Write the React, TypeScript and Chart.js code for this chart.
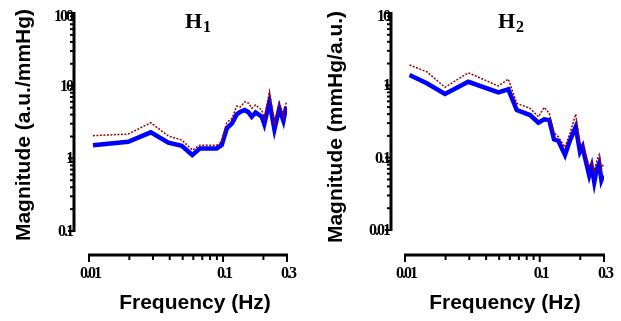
import React, { useEffect, useRef } from "react";
import { Chart, registerables } from "chart.js";

Chart.register(...registerables);

// ---- data ----
const h1Freq = [0.0107, 0.0196, 0.0289, 0.0391, 0.0492, 0.059, 0.0673, 0.0897, 0.0978, 0.1066, 0.1166, 0.1265, 0.135, 0.145, 0.155, 0.1637, 0.175, 0.1945, 0.203, 0.222, 0.2417, 0.263, 0.282, 0.296];
const h1Blue = [1.52, 1.69, 2.28, 1.64, 1.49, 1.11, 1.37, 1.37, 1.52, 2.59, 3.03, 4.03, 4.39, 4.62, 4.3, 3.74, 4.29, 3.74, 2.97, 6.0, 2.51, 4.89, 3.3, 5.14];
const h1Red = [2.05, 2.16, 3.09, 2.03, 1.79, 1.3, 1.52, 1.52, 1.69, 3.09, 3.56, 5.25, 5.1, 6.0, 5.75, 4.89, 5.42, 4.62, 3.56, 8.26, 3.03, 5.84, 3.74, 5.84];

const h2Freq = [0.0108, 0.0145, 0.0198, 0.0295, 0.0493, 0.0585, 0.0675, 0.0848, 0.0977, 0.108, 0.1178, 0.1276, 0.1374, 0.154, 0.168, 0.185, 0.199, 0.208, 0.216, 0.233, 0.243, 0.254, 0.264, 0.276, 0.287, 0.296];
const h2Blue = [1.39, 1.07, 0.758, 1.12, 0.8, 0.88, 0.455, 0.388, 0.304, 0.339, 0.33, 0.179, 0.171, 0.109, 0.175, 0.267, 0.121, 0.142, 0.103, 0.057, 0.075, 0.046, 0.067, 0.083, 0.049, 0.057];
const h2Red = [1.91, 1.54, 0.94, 1.49, 0.98, 1.22, 0.564, 0.481, 0.368, 0.497, 0.41, 0.221, 0.194, 0.139, 0.221, 0.4, 0.158, 0.15, 0.121, 0.075, 0.088, 0.064, 0.088, 0.109, 0.07, 0.08];

const xTickValues = [0.01, 0.1, 0.3];
const xTickLabels = ["0.01", "0.1", "0.3"];
const xMinorTicks = [0.02, 0.03, 0.04, 0.05, 0.06, 0.07, 0.08, 0.09, 0.2];
const h1YTickValues = [0.1, 1, 10, 100];
const h1YTickLabels = ["0.1", "1", "10", "100"];
const h2YTickValues = [0.01, 0.1, 1, 10];
const h2YTickLabels = ["0.01", "0.1", "1", "10"];
const yMinorMultipliers = [2, 3, 4, 5, 6, 7, 8, 9];

type Panel = {
  width: number;
  title: string;
  sub: string;
  yTitle: string;
  freq: number[];
  blue: number[];
  red: number[];
  yTicks: number[];
  yLabels: string[];
  xMin: number;
  yMin: number;
  yMax: number;
  left: number;
  right: number;
  titleX: number;
  yTitleX: number;
  yTitleY: number;
};

const panels: Panel[] = [
  {
    width: 310, title: "H", sub: "1", yTitle: "Magnitude (a.u./mmHg)",
    freq: h1Freq, blue: h1Blue, red: h1Red,
    yTicks: h1YTickValues, yLabels: h1YTickLabels,
    xMin: 0.00773, yMin: 0.0468, yMax: 100, left: 74, right: 287,
    titleX: 185, yTitleX: 24, yTitleY: 125,
  },
  {
    width: 311, title: "H", sub: "2", yTitle: "Magnitude (mmHg/a.u.)",
    freq: h2Freq, blue: h2Blue, red: h2Red,
    yTicks: h2YTickValues, yLabels: h2YTickLabels,
    xMin: 0.00787, yMin: 0.00451, yMax: 10, left: 81, right: 294,
    titleX: 188, yTitleX: 26, yTitleY: 127,
  },
];

const H = 321;
const AXIS_Y = 255;
const TOP = 13;

const prismAxes = {
  id: "prismAxes",
  afterDraw(chart: any, _args: any, opts: any) {
    const p: Panel = opts.panel;
    const ctx: CanvasRenderingContext2D = chart.ctx;
    const xs = chart.scales.x;
    const ys = chart.scales.y;
    const area = chart.chartArea;
    ctx.save();
    ctx.strokeStyle = "#000";
    ctx.fillStyle = "#000";
    ctx.lineCap = "butt";

    // y axis line
    const yTop = ys.getPixelForValue(p.yTicks[p.yTicks.length - 1]);
    const yBot = ys.getPixelForValue(p.yTicks[0]);
    const ax = area.left;
    ctx.lineWidth = 3;
    ctx.beginPath();
    ctx.moveTo(ax, yTop - 1);
    ctx.lineTo(ax, yBot + 1);
    ctx.stroke();
    // y ticks
    ctx.lineWidth = 2;
    for (let i = 0; i < p.yTicks.length; i++) {
      const py = ys.getPixelForValue(p.yTicks[i]);
      ctx.beginPath();
      ctx.moveTo(ax, py);
      ctx.lineTo(ax - 6, py);
      ctx.stroke();
      if (i < p.yTicks.length - 1) {
        for (const m of yMinorMultipliers) {
          const my = ys.getPixelForValue(p.yTicks[i] * m);
          ctx.beginPath();
          ctx.moveTo(ax, my);
          ctx.lineTo(ax - 4, my);
          ctx.stroke();
        }
      }
    }
    // y tick labels
    ctx.font = "bold 16px 'Liberation Serif', 'Times New Roman', serif";
    (ctx as any).letterSpacing = "-2px";
    ctx.textAlign = "right";
    ctx.textBaseline = "middle";
    for (let i = 0; i < p.yTicks.length; i++) {
      const py = ys.getPixelForValue(p.yTicks[i]);
      ctx.fillText(p.yLabels[i], ax - 2, Math.max(py + 1, 17));
    }

    // x axis line
    const x0 = xs.getPixelForValue(xTickValues[0]);
    const x1 = xs.getPixelForValue(xTickValues[xTickValues.length - 1]);
    const ay = area.bottom;
    ctx.lineWidth = 3;
    ctx.beginPath();
    ctx.moveTo(x0 - 1, ay);
    ctx.lineTo(x1 + 1, ay);
    ctx.stroke();
    ctx.lineWidth = 2;
    for (const v of xTickValues) {
      const px = xs.getPixelForValue(v);
      ctx.beginPath();
      ctx.moveTo(px, ay);
      ctx.lineTo(px, ay + 7);
      ctx.stroke();
    }
    for (const v of xMinorTicks) {
      const px = xs.getPixelForValue(v);
      ctx.beginPath();
      ctx.moveTo(px, ay);
      ctx.lineTo(px, ay + 5);
      ctx.stroke();
    }
    ctx.textAlign = "center";
    ctx.textBaseline = "middle";
    for (let i = 0; i < xTickValues.length; i++) {
      const px = xs.getPixelForValue(xTickValues[i]);
      ctx.fillText(xTickLabels[i], px + 1, ay + 19);
    }
    (ctx as any).letterSpacing = "0px";

    // axis titles
    ctx.font = "bold 21px 'Liberation Sans', Arial, sans-serif";
    ctx.textAlign = "center";
    ctx.textBaseline = "middle";
    ctx.fillText("Frequency (Hz)", 195, 303);
    ctx.save();
    ctx.translate(p.yTitleX, p.yTitleY);
    ctx.rotate(-Math.PI / 2);
    ctx.fillText(p.yTitle, 0, 0);
    ctx.restore();

    // panel title with subscript
    ctx.textAlign = "left";
    ctx.textBaseline = "alphabetic";
    ctx.font = "bold 22px 'Liberation Serif', 'Times New Roman', serif";
    ctx.fillText(p.title, p.titleX, 28);
    const w = ctx.measureText(p.title).width;
    ctx.font = "bold 16px 'Liberation Serif', 'Times New Roman', serif";
    ctx.fillText(p.sub, p.titleX + w + 1, 32);

    ctx.restore();
  },
};

function PanelChart({ p }: { p: Panel }) {
  const ref = useRef<HTMLCanvasElement | null>(null);
  useEffect(() => {
    if (!ref.current) return;
    const chart = new Chart(ref.current, {
      type: "line",
      data: {
        datasets: [
          {
            label: "upper",
            data: p.freq.map((f, i) => ({ x: f, y: p.red[i] })),
            borderColor: "#9b0000",
            borderWidth: 1.5,
            borderDash: [2, 1.5],
            pointRadius: 0,
            tension: 0,
            fill: false,
          },
          {
            label: "mean",
            data: p.freq.map((f, i) => ({ x: f, y: p.blue[i] })),
            borderColor: "#0000ff",
            borderWidth: 4.5,
            pointRadius: 0,
            tension: 0,
            fill: false,
          },
        ],
      },
      options: {
        animation: false,
        responsive: false,
        layout: { padding: { left: 0, top: TOP, right: p.width - p.right, bottom: 0 } },
        plugins: {
          legend: { display: false },
          tooltip: { enabled: false },
          prismAxes: { panel: p },
        } as any,
        scales: {
          x: {
            type: "logarithmic",
            min: p.xMin,
            max: 0.3,
            grid: { display: false },
            border: { display: false },
            ticks: { display: false },
            afterFit: (s: any) => { s.height = H - AXIS_Y; },
          },
          y: {
            type: "logarithmic",
            min: p.yMin,
            max: p.yMax,
            grid: { display: false },
            border: { display: false },
            ticks: { display: false },
            afterFit: (s: any) => { s.width = p.left; },
          },
        },
      },
      plugins: [prismAxes],
    });
    return () => chart.destroy();
  }, [p]);
  return <canvas ref={ref} width={p.width} height={H} style={{ display: "block", width: p.width, height: H }} />;
}

export default function App() {
  return (
    <div style={{ position: "absolute", left: 0, top: 0, width: 621, height: H, display: "flex", background: "#fff" }}>
      {panels.map((p, i) => (
        <PanelChart key={i} p={p} />
      ))}
    </div>
  );
}
